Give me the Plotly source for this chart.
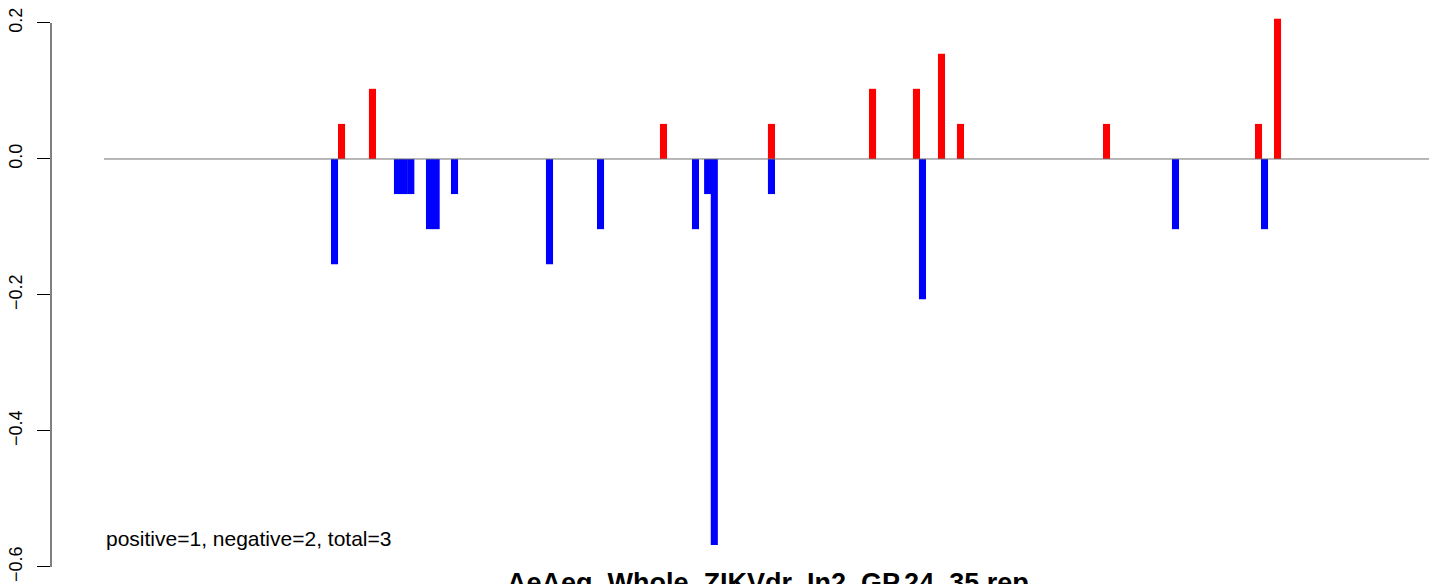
import plotly.graph_objects as go

# Data
red_pos = [35.61, 40.25, 83.88, 100.07, 115.22, 121.81, 125.56, 128.41, 150.30, 173.09, 175.94]
red_val = [0.0516, 0.1032, 0.0516, 0.0516, 0.1032, 0.1032, 0.1548, 0.0516, 0.0516, 0.0516, 0.2064]

blue_pos = [34.56, 44.0, 45.0, 46.0, 48.8, 49.8, 52.55, 66.79, 74.44, 88.68, 90.5, 91.5,
            100.07, 122.71, 160.64, 173.99]
blue_val = [-0.1548, -0.0516, -0.0516, -0.0516, -0.1032, -0.1032, -0.0516, -0.1548, -0.1032,
            -0.1032, -0.0516, -0.5676, -0.0516, -0.2064, -0.1032, -0.1032]

y_ticks = [-0.6, -0.4, -0.2, 0.0, 0.2]
y_tick_text = ["\u22120.6", "\u22120.4", "\u22120.2", "0.0", "0.2"]

title_text = "AeAeg_Whole_ZIKVdr_In2_GP.24_35.rep"
note_text = "positive=1, negative=2, total=3"

W, H = 1429, 584
ML, MR, MT, MB = 51, 0, 10, 9
FONT = "Liberation Sans, Arial, Helvetica, sans-serif"

fig = go.Figure()
fig.add_trace(go.Bar(x=blue_pos, y=blue_val, width=1.06,
                     marker=dict(color="#0000FF", line=dict(width=0)),
                     hoverinfo="skip"))
fig.add_trace(go.Bar(x=red_pos, y=red_val, width=1.06,
                     marker=dict(color="#FF0000", line=dict(width=0)),
                     hoverinfo="skip"))

x_min, x_max = -7.946, 198.65
y_min, y_max = -0.6118, 0.2191
fig.update_layout(
    width=W, height=H,
    margin=dict(l=ML, r=MR, t=MT, b=MB, pad=0, autoexpand=False),
    paper_bgcolor="white", plot_bgcolor="white",
    showlegend=False, barmode="overlay",
    font=dict(family=FONT, color="black"),
    xaxis=dict(visible=False, range=[x_min, x_max], fixedrange=True, automargin=False),
    yaxis=dict(range=[y_min, y_max], tickvals=y_ticks, ticktext=y_tick_text,
               ticks="outside", ticklen=13, tickwidth=1, tickcolor="black",
               showgrid=False, zeroline=False, showline=False, automargin=False,
               tickangle=-90, tickfont=dict(size=18, family=FONT, color="black"),
               ticklabelstandoff=8, fixedrange=True),
)

# y axis line (only spanning tick range, like R)
fig.add_shape(type="line", xref="paper", yref="y", x0=0, x1=0, y0=-0.6, y1=0.2,
              line=dict(color="black", width=1))
# zero reference line
fig.add_shape(type="line", xref="x", yref="y", x0=0, x1=x_max, y0=0, y1=0,
              line=dict(color="#707070", width=1), layer="above")

fig.add_annotation(text=note_text, xref="x", yref="y", x=0, y=-0.5588,
                   xanchor="left", yanchor="middle", showarrow=False,
                   font=dict(size=21, family=FONT, color="black"))

fig.add_annotation(text="<b>" + title_text + "</b>", xref="paper", yref="paper",
                   x=(768 - ML) / (W - ML - MR), y=(H - MB - 566) / (H - MT - MB),
                   xanchor="center", yanchor="top", showarrow=False,
                   font=dict(size=27, family=FONT, color="black"))

fig.write_html("out.html", config={"displayModeBar": False},
               post_script="document.body.style.margin='0px';document.body.style.overflow='hidden';")
